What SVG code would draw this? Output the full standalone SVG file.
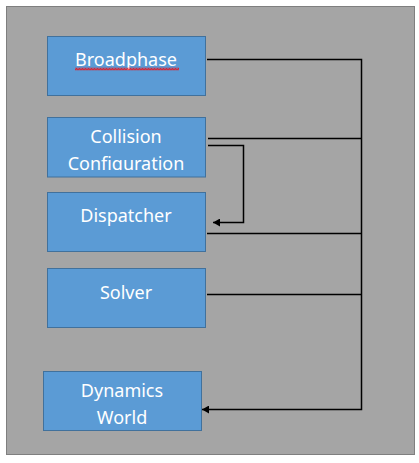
<svg xmlns="http://www.w3.org/2000/svg" width="419" height="463" viewBox="0 0 419 463">
<style>
.bg{fill:#a5a5a5;stroke:#7f7f7f;stroke-width:1}
.box{fill:#5b9bd5;stroke:#41719c;stroke-width:1}
.lbl{font-family:"Noto Sans","Open Sans","Liberation Sans",sans-serif;font-size:18px;fill:#ffffff;text-anchor:middle}
.con{fill:none;stroke:#000000;stroke-width:1.5}
</style>
<defs>
<marker id="arr" markerWidth="8" markerHeight="8" refX="7" refY="4" orient="auto" markerUnits="userSpaceOnUse">
<path d="M0,0 L7,4 L0,8 z" fill="#000000"/>
</marker>
<pattern id="sq" width="3" height="3" patternUnits="userSpaceOnUse" x="75" y="67.5">
<path d="M0,2.5 L1.5,1 L3,2.5" stroke="#ff0000" fill="none" stroke-width="1.1"/>
</pattern>
<clipPath id="clipConf"><rect x="47" y="117" width="159" height="53"/></clipPath>
</defs>
<rect class="bg" x="6.5" y="6.5" width="408" height="448"/>
<g id="connectors">
<path class="con" d="M207,59.5 H361.5 V409.5 H202" marker-end="url(#arr)"/>
<path class="con" d="M208,138.5 H361.5"/>
<path class="con" d="M208,145.5 H243.5 V222.5 H213" marker-end="url(#arr)"/>
<path class="con" d="M207,233.5 H361.5"/>
<path class="con" d="M207,294.5 H361.5"/>
</g>
<g id="broadphase">
<rect class="box" x="47.5" y="36.5" width="158" height="59"/>
<text class="lbl" x="126" y="66">Broadphase</text>
<rect x="75" y="67.5" width="104" height="3" fill="url(#sq)"/>
</g>
<g id="collision-configuration">
<rect class="box" x="47.5" y="117.5" width="158" height="59.5"/>
<text class="lbl" x="126" y="142.5">Collision</text>
<text class="lbl" x="126" y="169.5" clip-path="url(#clipConf)">Configuration</text>
</g>
<g id="dispatcher">
<rect class="box" x="47.5" y="192.5" width="158" height="59"/>
<text class="lbl" x="126" y="222">Dispatcher</text>
</g>
<g id="solver">
<rect class="box" x="47.5" y="268.5" width="158" height="59"/>
<text class="lbl" x="126" y="298.5">Solver</text>
</g>
<g id="dynamics-world">
<rect class="box" x="43.5" y="371.5" width="158" height="59"/>
<text class="lbl" x="122" y="396.5">Dynamics</text>
<text class="lbl" x="122" y="424">World</text>
</g>
</svg>
